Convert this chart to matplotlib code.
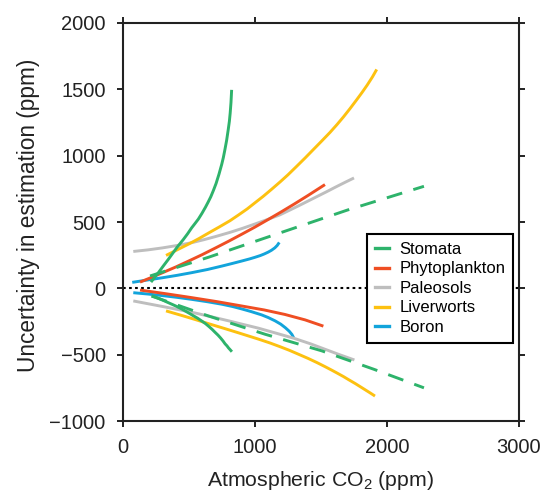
import matplotlib
matplotlib.use("Agg")
import matplotlib.pyplot as plt

plt.rcParams['font.family'] = ['Liberation Sans', 'DejaVu Sans']

# ---- data ----
stomata_up_x = [212, 240, 268, 305, 343, 375, 407, 432, 457, 490, 520, 545, 571, 598, 625, 645, 665, 685, 705, 727, 748, 760, 771, 785, 797, 806, 812, 818, 823]
stomata_up_y = [47, 83, 118, 168, 218, 262, 306, 337, 368, 412, 456, 488, 522, 565, 612, 650, 690, 738, 790, 860, 935, 985, 1040, 1115, 1195, 1260, 1321, 1400, 1496]
stomata_lo_x = [217, 250, 280, 310, 343, 375, 410, 440, 470, 500, 530, 565, 596, 625, 650, 675, 697, 720, 740, 758, 773, 788, 800, 813, 825]
stomata_lo_y = [-58, -68, -80, -93, -108, -122, -138, -153, -170, -187, -205, -225, -246, -266, -287, -309, -331, -353, -375, -397, -418, -434, -450, -464, -478]
stomata_dash_up_x = [205, 650, 1190, 1700, 2280]
stomata_dash_up_y = [93, 235, 418, 590, 769]
stomata_dash_lo_x = [217, 646, 1076, 1505, 1900, 2280]
stomata_dash_lo_y = [-58, -208, -346, -471, -610, -750]

phyto_up_x = [129, 200, 300, 400, 500, 600, 700, 800, 900, 1000, 1100, 1200, 1300, 1400, 1530]
phyto_up_y = [47, 76, 118, 161, 207, 254, 304, 355, 408, 462, 519, 577, 637, 699, 782]
phyto_lo_x = [129, 320, 520, 710, 899, 1070, 1227, 1380, 1518]
phyto_lo_y = [-13, -40, -70, -100, -133, -163, -197, -238, -285]

paleo_up_x = [78, 190, 300, 410, 520, 610, 700, 811, 905, 1000, 1095, 1189, 1260, 1330, 1400, 1468, 1540, 1610, 1680, 1750]
paleo_up_y = [278, 290, 305, 323, 344, 366, 390, 422, 452, 485, 519, 554, 588, 622, 657, 691, 727, 763, 798, 832]
paleo_lo_x = [78, 300, 520, 660, 800, 910, 1025, 1160, 1300, 1420, 1530, 1640, 1753]
paleo_lo_y = [-95, -137, -180, -212, -245, -272, -300, -338, -378, -418, -459, -500, -540]

liver_up_x = [326, 410, 500, 575, 650, 730, 811, 875, 940, 1000, 1063, 1125, 1190, 1250, 1316, 1380, 1440, 1505, 1568, 1620, 1670, 1720, 1770, 1810, 1850, 1890, 1922]
liver_up_y = [248, 290, 335, 375, 418, 463, 510, 553, 598, 645, 694, 746, 802, 856, 920, 983, 1044, 1110, 1175, 1233, 1292, 1355, 1421, 1475, 1532, 1594, 1650]
liver_lo_x = [326, 450, 550, 660, 773, 880, 950, 1030, 1114, 1190, 1260, 1330, 1404, 1470, 1530, 1580, 1619, 1670, 1710, 1760, 1800, 1840, 1875, 1909]
liver_lo_y = [-170, -206, -236, -270, -304, -337, -359, -384, -412, -440, -467, -497, -529, -560, -590, -616, -637, -665, -689, -718, -743, -768, -790, -812]

boron_up_x = [70, 180, 300, 410, 520, 640, 750, 830, 900, 960, 1000, 1040, 1070, 1100, 1125, 1150, 1168, 1184]
boron_up_y = [45, 62, 80, 98, 118, 142, 168, 188, 206, 222, 234, 247, 259, 273, 287, 305, 323, 346]
boron_lo_x = [78, 190, 300, 410, 520, 640, 750, 830, 899, 970, 1050, 1100, 1152, 1195, 1230, 1260, 1280, 1292]
boron_lo_y = [-33, -43, -55, -68, -83, -101, -120, -137, -155, -175, -200, -220, -245, -270, -297, -324, -348, -371]

labels = ['Stomata', 'Phytoplankton', 'Paleosols', 'Liverworts', 'Boron']
colors = ['#2EB36B', '#EF4E23', '#BEBEBE', '#FDC110', '#12A4DB']

xticks = [0, 1000, 2000, 3000]
yticks = [-1000, -500, 0, 500, 1000, 1500, 2000]

# ---- figure ----
fig = plt.figure(figsize=(5.47, 4.90), dpi=100)
ax = fig.add_axes([123/547, 1 - 421/490, (519 - 123)/547, (421 - 23)/490])

lw = 2.1
ax.axhline(0, color='black', lw=1.5, linestyle=(0, (1.3, 1.6)), zorder=1)

kw = dict(lw=lw, solid_capstyle='butt', solid_joinstyle='round')
ax.plot(boron_up_x, boron_up_y, color=colors[4], **kw)
ax.plot(boron_lo_x, boron_lo_y, color=colors[4], **kw)
ax.plot(paleo_up_x, paleo_up_y, color=colors[2], **kw)
ax.plot(paleo_lo_x, paleo_lo_y, color=colors[2], **kw)
ax.plot(liver_up_x, liver_up_y, color=colors[3], **kw)
ax.plot(liver_lo_x, liver_lo_y, color=colors[3], **kw)
ax.plot(phyto_up_x, phyto_up_y, color=colors[1], **kw)
ax.plot(phyto_lo_x, phyto_lo_y, color=colors[1], **kw)
ax.plot(stomata_dash_up_x, stomata_dash_up_y, color=colors[0], lw=lw, linestyle=(0, (5.5, 4)))
ax.plot(stomata_dash_lo_x, stomata_dash_lo_y, color=colors[0], lw=lw, linestyle=(0, (5.5, 4)))
ax.plot(stomata_up_x, stomata_up_y, color=colors[0], **kw)
ax.plot(stomata_lo_x, stomata_lo_y, color=colors[0], **kw)

ax.set_xlim(0, 3000)
ax.set_ylim(-1000, 2000)
ax.set_xticks(xticks)
ax.set_yticks(yticks)
ax.tick_params(axis='both', direction='out', length=4.5, width=1.4, labelsize=14.5,
               top=True, right=True, colors='#222222', labelcolor='#222222')
ax.tick_params(axis='y', pad=8)
ax.tick_params(axis='x', pad=8)
for s in ax.spines.values():
    s.set_linewidth(1.5)
    s.set_color('#222222')

ax.set_xlabel('Atmospheric CO$_\\mathregular{2}$ (ppm)', fontsize=15.3, color='#222222')
ax.set_ylabel('Uncertainty in estimation (ppm)', fontsize=16.3, color='#222222')
ax.xaxis.label.set_va('baseline')
ax.yaxis.label.set_va('baseline')
ax.xaxis.set_label_coords(0.5, (421 - 485.5) / 398)
ax.yaxis.set_label_coords((35 - 123) / 396, (421 - 215.5) / 398)

handles = [plt.Line2D([], [], color=c, lw=2.4) for c in colors]
leg = ax.legend(handles, labels, loc='upper left',
                bbox_to_anchor=((367 - 123) / 396, (421 - 234) / 398),
                borderaxespad=0, fontsize=12, handlelength=0.85, handletextpad=0.6,
                labelspacing=0.27, fancybox=False, framealpha=1, edgecolor='black',
                borderpad=0.48)
leg.get_frame().set_linewidth(1.5)

fig.savefig('out.png', dpi=100)
